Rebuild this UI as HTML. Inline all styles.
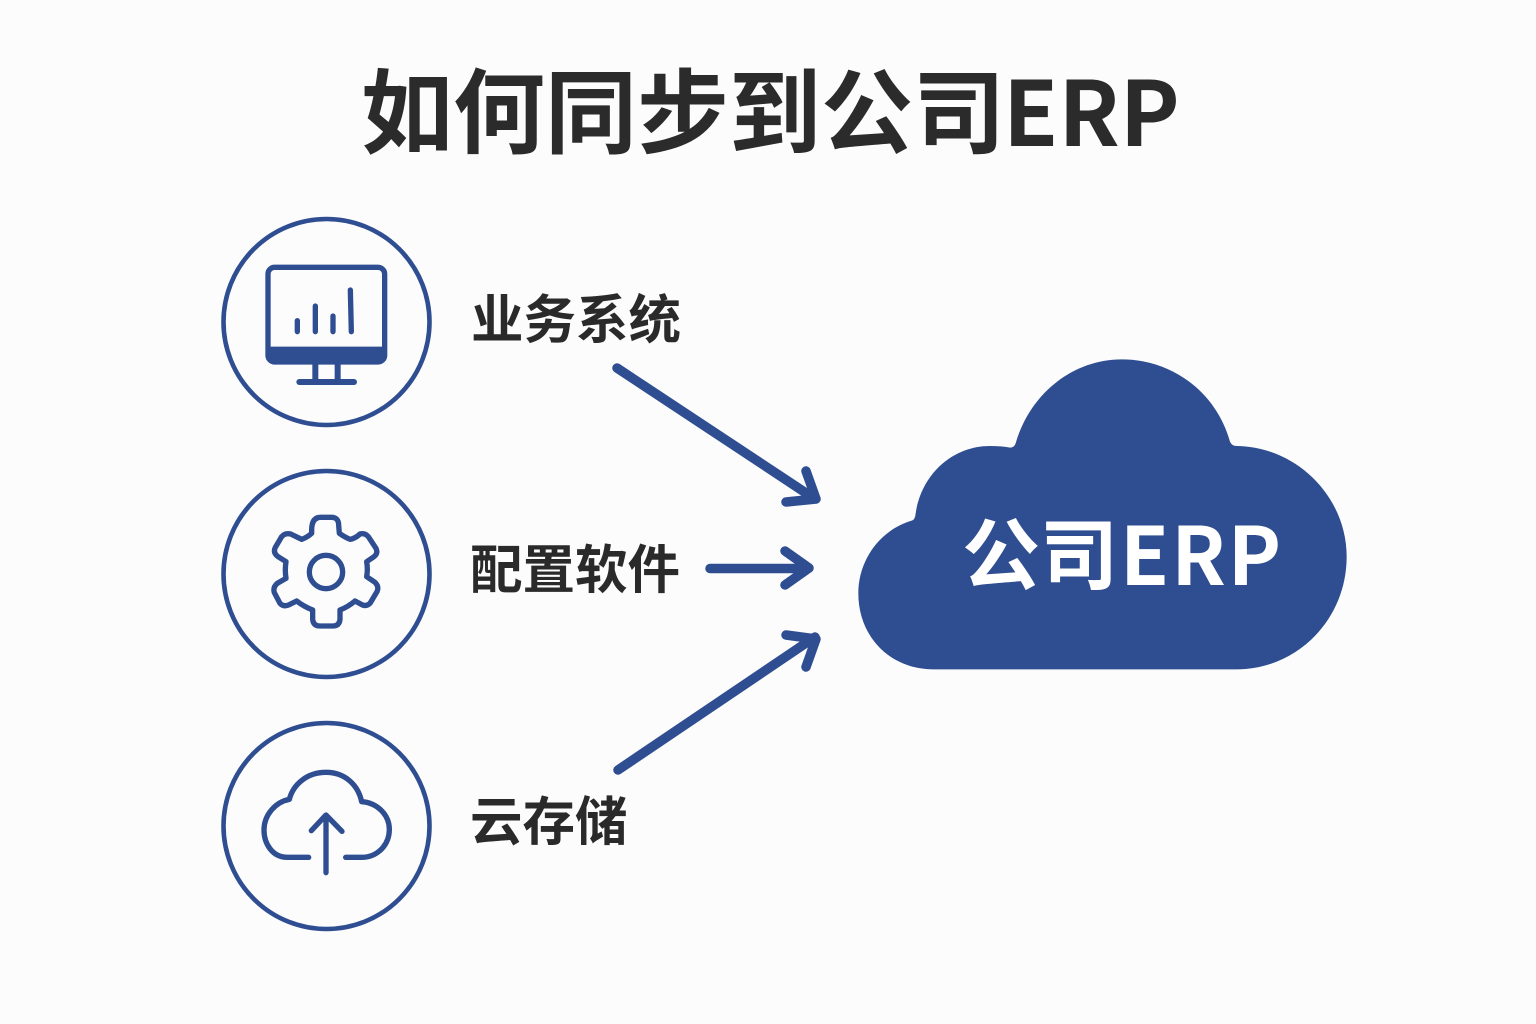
<!DOCTYPE html>
<html lang="zh-CN">
<head>
<meta charset="utf-8">
<title>如何同步到公司ERP</title>
<style>
html,body{margin:0;padding:0;background:#fcfcfd;width:1536px;height:1024px;overflow:hidden}
svg{display:block}
text{font-family:"Noto Sans CJK SC","Liberation Sans",sans-serif;font-weight:700}
.lb{font-size:52.500px;fill:#2a2a2a}
</style>
</head>
<body>
<svg width="1536" height="1024" viewBox="0 0 1536 1024" xmlns="http://www.w3.org/2000/svg">
<rect width="1536" height="1024" fill="#fcfcfd"/>

<text x="361" y="146" font-size="92" fill="#2b2b2b">如何同步到公司</text>
<text x="1003" y="146" font-size="90" fill="#2b2b2b">ERP</text>

<g fill="none" stroke="#2f4e92" stroke-width="4.6">
<circle cx="326.500" cy="322" r="103"/>
<circle cx="326.500" cy="574" r="103"/>
<circle cx="326.500" cy="826" r="103"/>
</g>

<g transform="translate(210 210) scale(.33333)" fill="none" stroke="#2f4e92" stroke-linecap="round" stroke-linejoin="round">
<rect x="174" y="172" width="350" height="284" rx="20" stroke-width="16"/>
<path d="M174 410H524V436Q524 456 504 456H194Q174 456 174 436Z" fill="#2f4e92" stroke="none"/>
<path d="M316 456V515M383 456V515" stroke-width="18" stroke-linecap="butt"/>
<path d="M268 516H432" stroke-width="18"/>
<path d="M262 332V365M316 288V365M369 318V365M421 240L424 365" stroke-width="16"/>
</g>

<g transform="translate(250 500) scale(.33333)" fill="none" stroke="#2f4e92" stroke-width="16" stroke-linejoin="round">
<path d="M185 88Q186 52 212 52H244Q266 52 266 76L268 100Q285 112 300 118Q315 116 330 102Q345 98 355 110L378 145Q385 160 372 170L350 185Q354 208 350 230L375 247Q388 260 381 275L360 310Q347 322 332 312L315 303Q295 320 270 330V358Q268 378 248 378H210Q190 378 188 358V330Q162 320 140 303L118 314Q100 322 90 310L73 278Q68 262 82 250L108 235Q104 210 108 185L84 170Q68 158 76 142L95 110Q105 98 122 102L155 118Q172 112 185 100Z"/>
<circle cx="228" cy="216" r="50"/>
</g>

<g transform="translate(250 760) scale(.33333)" fill="none" stroke="#2f4e92" stroke-width="16" stroke-linecap="round" stroke-linejoin="round">
<path d="M176 292H112C68 292 42 252 42 210C42 165 76 126 118 118C130 72 172 37 228 37C284 37 324 74 335 125C382 128 418 165 418 208C418 255 382 292 335 292H287"/>
<path d="M228 338V165M184 212L228 165L276 214"/>
</g>

<text class="lb" x="471" y="338">业务系统</text>
<text class="lb" x="470" y="588">配置软件</text>
<text class="lb" x="470" y="840">云存储</text>

<g fill="none" stroke="#2f4e92" stroke-width="9.500" stroke-linecap="round" stroke-linejoin="round">
<path d="M617 368L815 499M806 471L816 499L786 502"/>
<path d="M710 568.500H808M785 551L809 568L785 585"/>
<path d="M618 770L815 637M786 635L816 639L806 667"/>
</g>

<path transform="translate(850 350) scale(.33333)" fill="#2f4e92" d="M250 958C120 958 25 860 25 730C25 630 90 540 185 512Q195 510 197 490C215 370 310 288 420 288Q455 288 480 293Q492 293 497 280C540 130 670 28 815 28C970 28 1100 130 1140 275Q1145 288 1160 288C1340 290 1490 440 1490 620C1490 810 1340 958 1160 958Z"/>

<text x="962" y="583" font-size="78" fill="#ffffff">公司</text>
<text x="1120" y="585" font-size="80" fill="#ffffff" letter-spacing="2">ERP</text>
</svg>
</body>
</html>
